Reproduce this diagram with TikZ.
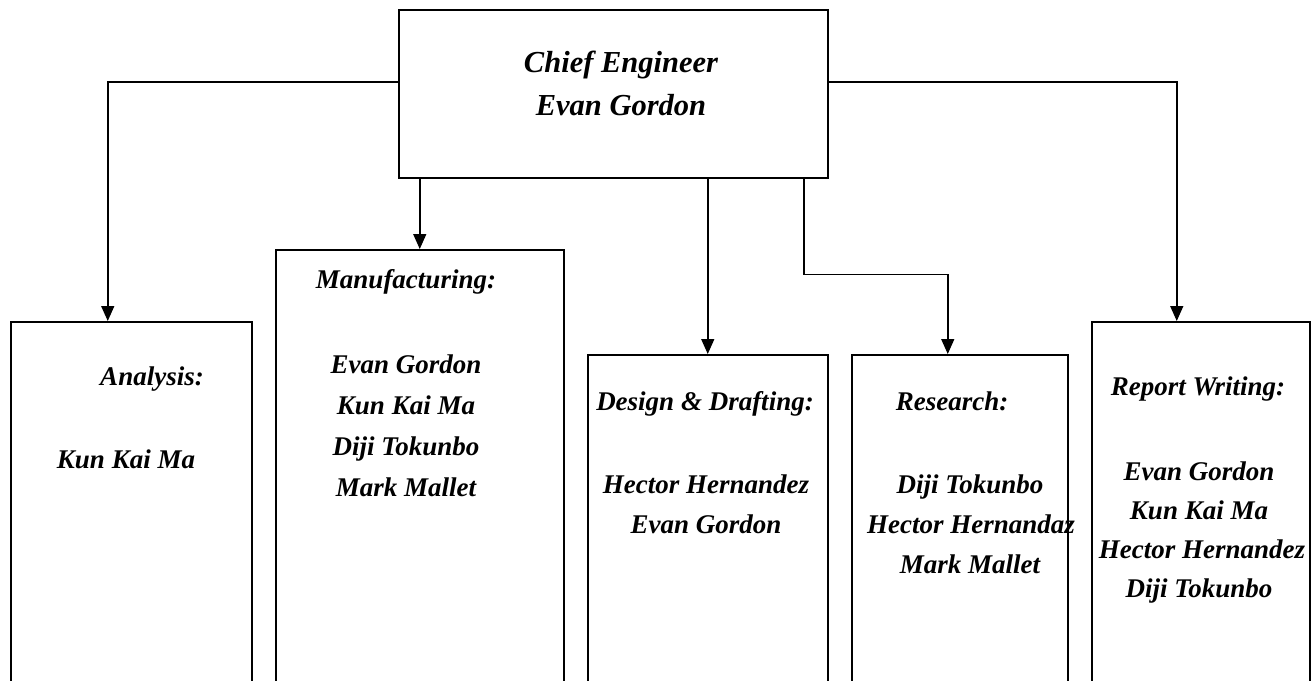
\documentclass[tikz,border=0pt]{standalone}
\usepackage{fontspec}
\setmainfont{Liberation Serif}
\usetikzlibrary{arrows.meta}
\begin{document}
\begin{tikzpicture}[x=1pt,y=-1pt,
  box/.style={draw, line width=1.5pt, rectangle, anchor=north west, inner sep=0pt},
  lbl/.style={inner sep=0pt, anchor=base, font=\fontsize{27}{32}\selectfont\bfseries\itshape},
  bosslbl/.style={inner sep=0pt, anchor=base, font=\fontsize{30.5}{36}\selectfont\bfseries\itshape},
  link/.style={line width=1.5pt, -{Triangle[length=15pt,width=13pt]}}]
\useasboundingbox (0,0) rectangle (1313,680);
\clip (0,0) rectangle (1313,680);
\node[box, minimum width=429pt, minimum height=168pt] (chief) at (398,9){};
\node[box, minimum width=241pt, minimum height=450pt] (ana) at (10,321){};
\node[box, minimum width=288pt, minimum height=520pt] (man) at (275,249){};
\node[box, minimum width=240pt, minimum height=420pt] (des) at (587,354){};
\node[box, minimum width=216pt, minimum height=420pt] (res) at (851,354){};
\node[box, minimum width=218pt, minimum height=450pt] (rep) at (1091,321){};
\draw[link] ([yshift=12pt]chief.west) -| ([xshift=-23.5pt]ana.north);
\draw[link] (chief.south -| man.north) -- (man.north);
\draw[link] (chief.south -| des.north) -- (des.north);
\draw[link] ([xshift=190.5pt]chief.south) -- ++(0,96) -| ([xshift=-12pt]res.north);
\draw[link] ([yshift=12pt]chief.east) -| ([xshift=-24pt]rep.north);
\node[bosslbl] (chief1) at (621,72){Chief Engineer};
\node[bosslbl] (chief2) at (621,115){Evan Gordon};
\node[lbl] (ana0) at (152,385){Analysis:};
\node[lbl] (ana1) at (126,468){Kun Kai Ma};
\node[lbl] (man0) at (406,288){Manufacturing:};
\node[lbl] (man1) at (406,373){Evan Gordon};
\node[lbl] (man2) at (406,414){Kun Kai Ma};
\node[lbl] (man3) at (406,455){Diji Tokunbo};
\node[lbl] (man4) at (406,496){Mark Mallet};
\node[lbl] (des0) at (705,410){Design \& Drafting:};
\node[lbl] (des1) at (706,493){Hector Hernandez};
\node[lbl] (des2) at (706,533){Evan Gordon};
\node[lbl] (res0) at (952,410){Research:};
\node[lbl] (res1) at (970,493){Diji Tokunbo};
\node[lbl] (res2) at (971,533){Hector Hernandaz};
\node[lbl] (res3) at (970,573){Mark Mallet};
\node[lbl] (rep0) at (1198,395){Report Writing:};
\node[lbl] (rep1) at (1199,480){Evan Gordon};
\node[lbl] (rep2) at (1199,519){Kun Kai Ma};
\node[lbl] (rep3) at (1202,558){Hector Hernandez};
\node[lbl] (rep4) at (1199,597){Diji Tokunbo};
\end{tikzpicture}
\end{document}
